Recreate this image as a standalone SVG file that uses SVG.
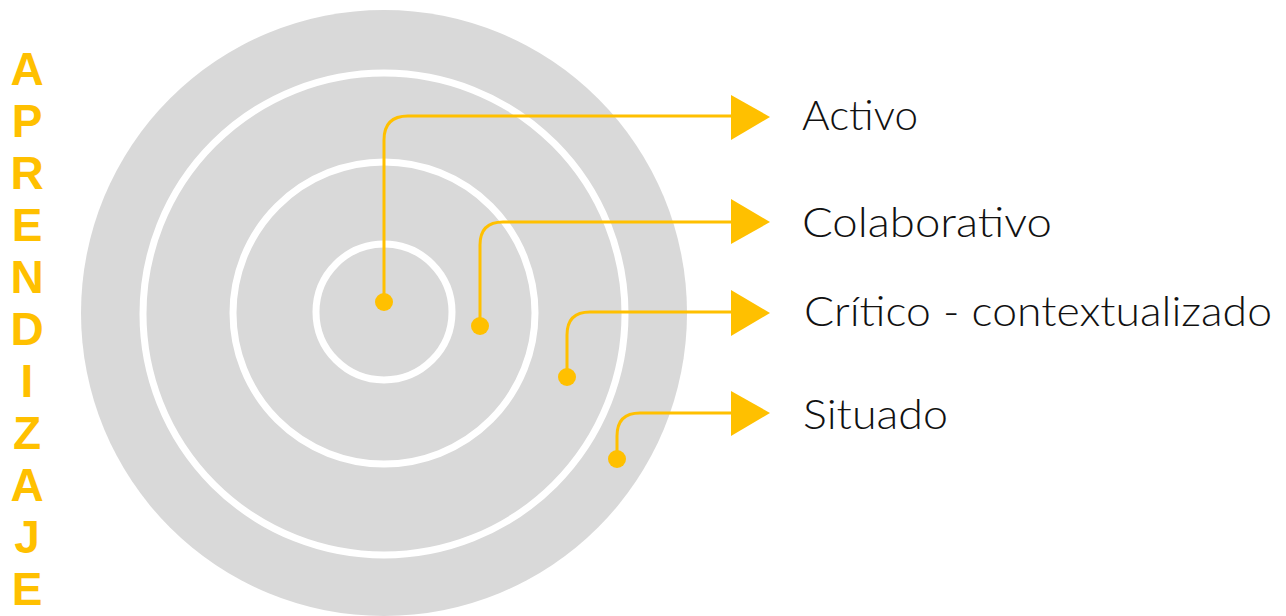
<svg xmlns="http://www.w3.org/2000/svg" width="1286" height="616" viewBox="0 0 1286 616">
<style>
.ring{fill:none;stroke:#fff;stroke-width:7}
.conn{fill:none;stroke:#FFC000;stroke-width:3}
.dot{fill:#FFC000}
.head{fill:#FFC000}
.lbl{font-family:Lato,"Open Sans",sans-serif;font-weight:300;font-size:41px;fill:#111}
.v{font-family:"Liberation Sans",Arial,sans-serif;font-weight:700;font-size:46px;fill:#FFC000;text-anchor:middle}
</style>
<rect width="1286" height="616" fill="#fff"/>
<g id="target">
<circle cx="384" cy="313" r="303" fill="#D9D9D9"/>
<circle class="ring" cx="384" cy="314" r="241"/>
<circle class="ring" cx="384" cy="313" r="151"/>
<circle class="ring" cx="384" cy="312" r="68"/>
</g>
<g id="title">
<text class="v" x="27" y="85">A</text>
<text class="v" x="27" y="137">P</text>
<text class="v" x="27" y="189">R</text>
<text class="v" x="27" y="241">E</text>
<text class="v" x="27" y="293">N</text>
<text class="v" x="27" y="345">D</text>
<text class="v" x="27" y="397">I</text>
<text class="v" x="27" y="449">Z</text>
<text class="v" x="27" y="501">A</text>
<text class="v" x="27" y="553">J</text>
<text class="v" x="27" y="605">E</text>
</g>
<g id="connectors">
<path class="conn" d="M384 302 V140 Q384 116 408 116 H735"/>
<path class="conn" d="M480 326 V245 Q480 222 503 222 H735"/>
<path class="conn" d="M567 377 V335 Q567 312 590 312 H735"/>
<path class="conn" d="M617 459 V436 Q617 413 640 413 H735"/>
</g>
<g id="activo">
<circle class="dot" cx="384" cy="302" r="9"/>
<polygon class="head" points="731,95 770,117 731,140"/>
<text class="lbl" x="802" y="130" textLength="116" lengthAdjust="spacingAndGlyphs">Activo</text>
</g>
<g id="colaborativo">
<circle class="dot" cx="480" cy="326" r="9"/>
<polygon class="head" points="731,199 770,222 731,244"/>
<text class="lbl" x="802" y="237" textLength="250" lengthAdjust="spacingAndGlyphs">Colaborativo</text>
</g>
<g id="critico">
<circle class="dot" cx="567" cy="377" r="9"/>
<polygon class="head" points="731,290 770,313 731,336"/>
<text class="lbl" x="804" y="326" textLength="468" lengthAdjust="spacingAndGlyphs">Crítico - contextualizado</text>
</g>
<g id="situado">
<circle class="dot" cx="617" cy="459" r="9"/>
<polygon class="head" points="731,391 770,413 731,436"/>
<text class="lbl" x="803" y="429" textLength="145" lengthAdjust="spacingAndGlyphs">Situado</text>
</g>
</svg>
